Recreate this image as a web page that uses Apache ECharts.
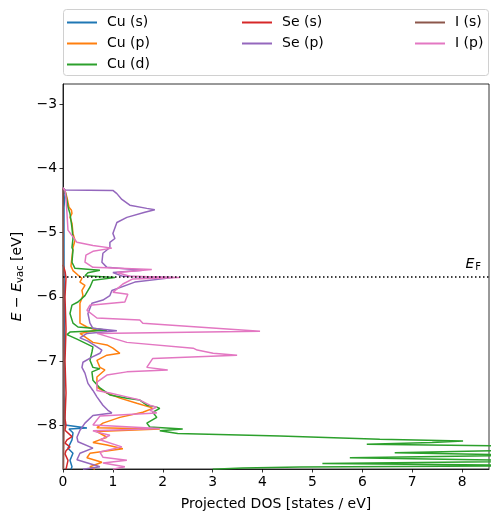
<!DOCTYPE html>
<html><head><meta charset="utf-8">
<script src="https://cdn.jsdelivr.net/npm/echarts@6/dist/echarts.min.js"></script>
<style>html,body{margin:0;padding:0;background:#fff}#c{width:498px;height:522px}</style>
</head><body><div id="c"></div>
<script>
// ---- data ----
const E_FERMI = -5.68;
const xTicks = [0, 1, 2, 3, 4, 5, 6, 7, 8];
const yTicks = [-8, -7, -6, -5, -4, -3];
const xRange = [0, 8.54];
const yRange = [-8.685, -2.68];

// each point: [projected DOS, energy]
const cuS = [[0,-4.30],[0.04,-4.40],[0.02,-4.60],[0.02,-5.50],[0.03,-6.50],[0.02,-7.50],[0.04,-8.00],[0.48,-8.045],[0.12,-8.06],[0.20,-8.12],[0.18,-8.23],[0.10,-8.36],[0.20,-8.44],[0.14,-8.55],[0.18,-8.65],[0.16,-8.69]];
const cuP = [[0,-4.30],[0.04,-4.34],[0.08,-4.45],[0.12,-4.60],[0.17,-4.65],[0.18,-4.70],[0.14,-4.76],[0.18,-4.85],[0.20,-5.01],[0.24,-5.12],[0.20,-5.23],[0.18,-5.38],[0.16,-5.52],[0.20,-5.59],[0.30,-5.66],[0.38,-5.71],[0.34,-5.77],[0.44,-5.82],[0.38,-5.90],[0.40,-5.98],[0.34,-6.10],[0.34,-6.41],[0.48,-6.47],[0.68,-6.52],[0.34,-6.57],[0.60,-6.71],[0.88,-6.75],[1.00,-6.80],[1.14,-6.88],[0.88,-6.91],[0.68,-6.99],[0.74,-7.10],[0.84,-7.14],[0.68,-7.25],[0.68,-7.41],[0.88,-7.50],[1.14,-7.58],[1.48,-7.66],[1.74,-7.72],[1.80,-7.74],[1.60,-7.80],[1.14,-7.88],[0.80,-7.97],[0.68,-8.04],[1.94,-8.06],[0.68,-8.10],[0.88,-8.19],[0.60,-8.27],[0.88,-8.31],[1.20,-8.37],[0.54,-8.44],[0.48,-8.51],[0.78,-8.58],[0.54,-8.65],[0.64,-8.69]];
const cuD = [[0,-4.30],[0.04,-4.34],[0.08,-4.50],[0.10,-4.60],[0.14,-4.70],[0.18,-4.92],[0.20,-5.09],[0.18,-5.23],[0.20,-5.27],[0.18,-5.46],[0.24,-5.555],[0.74,-5.585],[0.50,-5.625],[0.44,-5.67],[1.04,-5.70],[0.60,-5.74],[0.54,-5.85],[0.44,-5.98],[0.30,-6.08],[0.18,-6.13],[0.14,-6.26],[0.20,-6.41],[0.30,-6.47],[0.60,-6.49],[0.88,-6.52],[0.14,-6.55],[0.08,-6.59],[0.28,-6.66],[0.60,-6.78],[0.58,-6.86],[0.54,-6.99],[0.60,-7.10],[0.74,-7.12],[0.58,-7.17],[0.60,-7.30],[0.74,-7.42],[0.94,-7.53],[1.28,-7.58],[1.54,-7.61],[1.68,-7.69],[1.88,-7.72],[1.94,-7.74],[1.80,-7.80],[1.88,-7.88],[1.68,-7.97],[1.74,-8.03],[2.40,-8.06],[1.94,-8.09],[2.30,-8.13],[4.35,-8.17],[6.35,-8.22],[8.02,-8.25],[7.40,-8.27],[6.09,-8.30],[9.5,-8.33],[10.0,-8.38],[6.65,-8.43],[9.5,-8.47],[5.75,-8.51],[10.0,-8.56],[5.20,-8.60],[10.0,-8.63],[4.75,-8.655],[3.60,-8.67],[3.00,-8.69]];
const seS = [[0,-5.50],[0.04,-5.60],[0.06,-5.70],[0.04,-6.00],[0.06,-6.50],[0.04,-7.00],[0.06,-7.50],[0.04,-7.90],[0.06,-8.00],[0.04,-8.08],[0.18,-8.18],[0.08,-8.23],[0.04,-8.28],[0.14,-8.34],[0.06,-8.40],[0.04,-8.45],[0.10,-8.55],[0.06,-8.69]];
const seP = [[0,-4.30],[0.04,-4.335],[1.00,-4.34],[1.08,-4.39],[1.18,-4.48],[1.34,-4.57],[1.68,-4.62],[1.84,-4.64],[1.64,-4.68],[1.28,-4.76],[1.08,-4.84],[1.00,-5.01],[1.04,-5.09],[0.94,-5.15],[0.94,-5.23],[0.80,-5.32],[0.78,-5.46],[0.88,-5.54],[1.60,-5.585],[1.00,-5.62],[1.20,-5.68],[2.20,-5.70],[1.44,-5.77],[0.98,-5.90],[0.94,-5.98],[0.80,-6.05],[0.58,-6.10],[0.50,-6.26],[0.54,-6.41],[0.60,-6.49],[1.08,-6.53],[0.48,-6.57],[0.34,-6.64],[0.50,-6.69],[0.68,-6.78],[0.78,-6.83],[0.74,-6.88],[0.58,-6.94],[0.40,-7.02],[0.38,-7.10],[0.44,-7.19],[0.50,-7.35],[0.60,-7.46],[0.68,-7.56],[0.80,-7.69],[0.90,-7.77],[0.98,-7.81],[0.60,-7.85],[0.44,-7.97],[0.34,-8.08],[0.28,-8.19],[0.30,-8.26],[0.60,-8.36],[0.34,-8.44],[0.28,-8.54],[0.74,-8.65],[0.40,-8.69]];
const iS = [[0,-4.30],[0.01,-6.00],[0.02,-8.00],[0.01,-8.69]];
const iP = [[0,-4.30],[0.04,-4.34],[0.06,-4.45],[0.08,-4.70],[0.10,-4.96],[0.28,-5.15],[0.60,-5.20],[0.98,-5.24],[0.60,-5.29],[0.46,-5.35],[0.44,-5.46],[0.60,-5.54],[1.78,-5.575],[1.08,-5.62],[1.34,-5.68],[2.34,-5.70],[1.40,-5.72],[1.20,-5.80],[1.00,-5.93],[1.30,-5.96],[1.24,-6.08],[0.54,-6.13],[0.48,-6.21],[0.68,-6.33],[1.54,-6.36],[1.60,-6.41],[3.95,-6.535],[0.68,-6.57],[1.28,-6.71],[2.61,-6.80],[2.69,-6.83],[3.01,-6.88],[3.49,-6.91],[1.80,-6.96],[1.68,-7.10],[2.10,-7.14],[1.28,-7.17],[0.88,-7.22],[0.68,-7.33],[0.68,-7.46],[0.94,-7.50],[1.28,-7.56],[1.54,-7.61],[1.74,-7.69],[1.88,-7.72],[1.74,-7.77],[1.88,-7.81],[0.74,-7.86],[0.60,-8.00],[1.94,-8.055],[0.60,-8.09],[0.68,-8.11],[0.94,-8.16],[0.74,-8.23],[1.18,-8.34],[0.74,-8.42],[0.80,-8.50],[1.28,-8.55],[0.80,-8.59],[1.24,-8.65],[1.00,-8.69]];

const seriesNames = ['Cu (s)', 'Cu (p)', 'Cu (d)', 'Se (s)', 'Se (p)', 'I (s)', 'I (p)'];
const seriesData = [cuS, cuP, cuD, seS, seP, iS, iP];
const colors = ['#1f77b4', '#ff7f0e', '#2ca02c', '#d62728', '#9467bd', '#8c564b', '#e377c2'];

// ---- chart ----
const FONT = 'DejaVu Sans';
const fmt = v => (v < 0 ? '\u2212' + Math.abs(v) : String(v));
const chart = echarts.init(document.getElementById('c'), null, { renderer: 'canvas' });

const series = seriesNames.map((n, i) => ({
  name: n, type: 'line', data: seriesData[i], symbol: 'none', showSymbol: false,
  clip: true, z: 2 + i * 0.01,
  lineStyle: { color: colors[i], width: 1.5 }, itemStyle: { color: colors[i] }
}));
series[series.length - 1].markLine = {
  silent: true, symbol: 'none', animation: false,
  lineStyle: { color: '#000', type: [1.5, 2.5], width: 1.5 },
  label: {
    show: true, position: 'insideEndTop', distance: [8, 4],
    formatter: '{e|E}{f|F}',
    rich: {
      e: { fontFamily: FONT, fontSize: 14, fontStyle: 'italic', color: '#000', lineHeight: 16 },
      f: { fontFamily: FONT, fontSize: 10, color: '#000', lineHeight: 10, verticalAlign: 'bottom', padding: [0, 0, 0, 1] }
    }
  },
  data: [{ yAxis: E_FERMI }]
};

const legendBase = {
  orient: 'vertical', icon: 'rect', itemWidth: 30, itemHeight: 2, itemGap: 7, top: 15.5, padding: 0,
  textStyle: { fontFamily: FONT, fontSize: 14, color: '#000', lineHeight: 14, padding: [0, 0, 0, 5] },
  selectedMode: false
};

const axisCommon = {
  type: 'value', splitLine: { show: false },
  axisLine: { show: true, onZero: false, lineStyle: { color: '#000', width: 0.8 } },
  nameLocation: 'middle',
  nameTextStyle: { fontFamily: FONT, fontSize: 14, color: '#000' }
};

chart.setOption({
  animation: false,
  backgroundColor: '#fff',
  color: colors,
  grid: { left: 63, right: 9, top: 84, bottom: 53, show: true, borderColor: '#000', borderWidth: 0.8, containLabel: false },
  legend: [
    Object.assign({}, legendBase, { left: 67, data: seriesNames.slice(0, 3) }),
    Object.assign({}, legendBase, { left: 242, data: seriesNames.slice(3, 5) }),
    Object.assign({}, legendBase, { left: 415, data: seriesNames.slice(5, 7) })
  ],
  graphic: [{
    type: 'rect', z: -10, silent: true,
    shape: { x: 63.5, y: 9.5, width: 425, height: 66, r: 3 },
    style: { fill: '#fff', stroke: '#d0d0d0', lineWidth: 1 }
  }],
  xAxis: Object.assign({}, axisCommon, {
    min: xRange[0], max: xRange[1],
    name: 'Projected DOS [states / eV]', nameGap: 28,
    axisTick: { show: true, customValues: xTicks, length: 3.5, lineStyle: { color: '#000', width: 0.8 } },
    axisLabel: { customValues: xTicks, formatter: fmt, color: '#000', fontFamily: FONT, fontSize: 13.9, margin: 6 }
  }),
  yAxis: Object.assign({}, axisCommon, {
    min: yRange[0], max: yRange[1],
    name: '{i|E} \u2212 {i|E}{s|vac} [eV]', nameGap: 38,
    nameTextStyle: {
      fontFamily: FONT, fontSize: 14, color: '#000',
      rich: {
        i: { fontFamily: FONT, fontSize: 14, fontStyle: 'italic', color: '#000', lineHeight: 16 },
        s: { fontFamily: FONT, fontSize: 10, color: '#000', lineHeight: 10, verticalAlign: 'bottom' }
      }
    },
    axisTick: { show: true, customValues: yTicks, length: 3.5, lineStyle: { color: '#000', width: 0.8 } },
    axisLabel: { customValues: yTicks, formatter: fmt, color: '#000', fontFamily: FONT, fontSize: 13.9, margin: 6 }
  }),
  series: series
});
</script>
</body></html>
